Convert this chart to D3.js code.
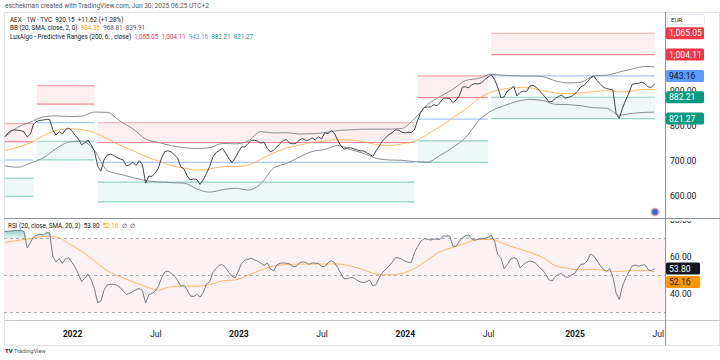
<!DOCTYPE html>
<html><head><meta charset="utf-8">
<script src="https://cdn.jsdelivr.net/npm/d3@7"></script>
<style>
body{margin:0;background:#fff;}
text{font-family:Roboto,"Liberation Sans",sans-serif;}
</style>
</head><body>
<svg id="c" width="720" height="360"></svg>
<script>
// ---------------- data ----------------
const startDate = "2021-08-09"; // first weekly bar (Monday)
const closes = [
769,780,787,789,788,787,783,769,777,806,
813,816,817,819,819,789,774,784,777,790,
794,786,773,763,746,752,760,746,729,686,
671,703,717,720,716,710,706,703,686,689,
697,687,701,689,637,657,656,666,680,709,
727,729,726,717,709,683,677,657,646,649,
647,633,646,664,684,711,724,730,736,723,
707,696,709,726,740,740,750,759,759,757,
751,754,736,726,731,740,750,759,761,751,
749,750,760,764,759,760,766,760,769,763,
781,778,787,779,760,743,734,737,738,735,
732,729,729,724,719,713,729,743,757,767,
775,781,789,788,783,780,782,781,789,817,
840,853,854,854,861,858,867,879,880,879,
867,874,886,911,912,909,919,921,920,924,
933,940,946,934,911,881,883,900,905,914,
886,896,900,898,914,916,911,901,891,881,
869,870,879,884,889,879,882,884,891,900,
912,917,926,937,943,930,921,911,907,905,
903,835,822,851,874,894,919,921,922,925,
921,912,910,920.15];

const bbIdx = [0,4,8,12,16,20,24,28,32,36,40,44,48,52,56,60,64,68,72,76,80,84,88,92,96,100,
104,108,112,116,120,124,128,132,136,140,144,148,152,156,160,164,168,172,176,180,184,188,192,196,200,203];
const bbUpper = [769,796,811,826,829,827,828,840,839,814,792,763,753,744,738,736,738,750,749,757,
784,780,781,777,778,781,787,789,791,791,791,793,821,861,884,905,930,936,947,945,943,943,941,929,923,925,943,945,954,963,970,968.81];
const bbBasis = [729,739,752,772,787,792,790,781,764,745,730,713,700,687,680,674,677,684,684,688,
705,723,737,745,753,757,761,760,755,747,744,749,756,776,799,824,848,878,897,906,910,909,901,895,892,895,898,901,897,900,905,904.36];
const bbLower = [686,682,694,709,735,754,757,730,673,662,653,644,640,638,637,620,611,618,622,617,
635,680,693,711,727,733,744,733,722,708,703,702,698,697,716,739,767,815,843,858,870,876,873,862,861,858,852,851,831,836,839,839.91];

// LuxAlgo predictive ranges: segments (bar index start/end) and levels
const prStart = [0,10,29,129,152];
const prEnd   = [9,28,128,151,203];
const prR2  = [807,915.4,809.3,943.1,1065.05];
const prR1  = [755,862.4,752.8,881.3,1004.11];
const prAvg = [703,809.4,696.3,819.5,943.16];
const prS1  = [651,756.4,639.8,757.7,882.21];
const prS2  = [599,703.4,583.3,695.9,821.27];

const rsi = [
73.7,73.9,74.1,74.3,74.4,74.4,73.8,64.9,67.8,71.0,
71.8,72.4,71.9,73.1,73.1,60.5,57.3,59.2,56.5,59.1,
59.6,57.1,54.3,50.8,46.7,48.5,50.8,47.6,43.0,35.3,
36.0,42.0,44.9,45.3,45.2,44.8,43.6,41.7,39.8,40.4,
41.3,42.4,43.0,41.8,35.1,39.6,40.3,41.5,44.1,48.8,
51.9,52.4,51.2,49.8,47.4,44.2,44.6,42.2,38.9,38.6,
39.8,38.3,40.8,45.3,46.6,51.6,53.8,55.6,55.9,54.1,
51.6,49.5,48.8,52.4,56.6,58.2,58.8,59.4,58.5,57.8,
56.6,55.5,56.8,53.6,52.5,55.7,56.6,56.8,56.6,56.3,
54.9,55.0,56.6,57.4,57.1,56.0,56.8,56.6,56.5,55.0,
54.9,56.8,58.0,57.0,54.3,51.0,48.2,48.3,48.8,48.8,
47.5,46.6,46.2,46.6,47.5,44.3,45.1,48.8,51.7,53.2,
55.1,57.1,59.6,59.5,58.8,57.8,57.2,57.0,62.5,65.7,
68.5,69.9,69.6,69.2,69.7,69.6,69.5,71.4,71.4,71.4,
65.9,65.7,68.4,70.5,71.5,71.9,69.4,69.2,69.7,69.9,
70.1,70.6,71.8,68.6,61.5,59.6,53.7,55.8,58.8,59.6,
59.0,54.1,55.9,57.1,57.8,57.5,56.5,54.4,53.1,50.6,
47.7,47.0,49.4,50.6,51.1,49.4,49.0,50.2,51.0,53.6,
56.0,56.2,58.0,61.6,60.6,58.2,55.5,53.3,52.1,53.7,
49.2,40.5,37.0,44.3,48.5,51.9,55.1,55.6,55.0,55.6,
55.8,53.2,52.5,53.80];
const rsiMa = [67.7,69.0,69.9,71.1,70.9,67.3,63.1,57.9,52.6,49.3,46.7,44.1,42.1,44.0,44.3,44.2,45.1,47.1,47.6,50.1,
52.9,55.1,55.9,56.2,56.2,56.2,56.2,55.1,53.1,50.8,50.3,51.1,53.7,58.3,62.9,65.2,67.5,69.4,69.5,67.1,
64.7,62.6,59.8,55.3,53.8,53.0,53.3,52.6,52.1,52.8,52.8,52.16];

const xTickDates  = ["2022-01-03","2022-07-04","2023-01-02","2023-07-03","2024-01-01","2024-07-01","2025-01-06","2025-07-07"];
const xTickLabels = ["2022","Jul","2023","Jul","2024","Jul","2025","Jul"];
const priceTicks = [600,700,800,900];
const rsiTicks = [40,60,80];
const rsiLevels = [70,50,30];

// ---------------- drawing ----------------
const svg = d3.select("#c");
const parse = d3.utcParse("%Y-%m-%d");
const t0 = parse(startDate);
const wd = i => d3.utcDay.offset(t0, 7*i);

const L = 4, R = 665, mainTop = 12, mainBot = 218, rsiBot = 320, axBot = 345;
const x = d3.scaleUtc().domain([parse("2022-01-03"), parse("2025-01-06")]).range([72, 574.5]);
const yP = d3.scaleLinear().domain([600, 900]).range([196, 91]);
const yR = d3.scaleLinear().domain([40, 60]).range([294, 257]);

const defs = svg.append("defs");
defs.append("clipPath").attr("id","cm").append("rect").attr("x",L).attr("y",mainTop).attr("width",R-L).attr("height",mainBot-mainTop);
defs.append("clipPath").attr("id","cr").append("rect").attr("x",L).attr("y",mainBot).attr("width",R-L).attr("height",rsiBot-mainBot);
defs.append("clipPath").attr("id","cra").append("rect").attr("x",R).attr("y",mainBot+3).attr("width",720-R).attr("height",rsiBot-mainBot-3);
defs.append("clipPath").attr("id","cma").append("rect").attr("x",R).attr("y",mainTop+1).attr("width",720-R).attr("height",mainBot-mainTop-1);
const gr = defs.append("linearGradient").attr("id","ob").attr("x1",0).attr("y1",0).attr("x2",0).attr("y2",1);
gr.append("stop").attr("offset","0%").attr("stop-color","#089981").attr("stop-opacity",0.45);
gr.append("stop").attr("offset","100%").attr("stop-color","#089981").attr("stop-opacity",0.08);

// header
svg.append("text").attr("x",5).attr("y",7.5).attr("font-size",6.6).attr("fill","#50535e")
  .text("eschekman created with TradingView.com, Jun 30, 2025 06:25 UTC+2");

// frame
svg.append("rect").attr("x",L+0.5).attr("y",mainTop+0.5).attr("width",720-L-1).attr("height",axBot-mainTop).attr("fill","none").attr("stroke","#e0e3eb");

// ---- main pane ----
const gm = svg.append("g").attr("clip-path","url(#cm)");
const segs = prStart.map((s,k)=>({x0:x(wd(s)), x1:x(wd(prEnd[k])), k}));
segs.forEach(s=>{
  const k=s.k;
  gm.append("rect").attr("x",s.x0).attr("width",s.x1-s.x0).attr("y",yP(prR2[k])).attr("height",yP(prR1[k])-yP(prR2[k])).attr("fill","#fdeef0");
  gm.append("rect").attr("x",s.x0).attr("width",s.x1-s.x0).attr("y",yP(prS1[k])).attr("height",yP(prS2[k])-yP(prS1[k])).attr("fill","#eef8f6");
  [[prR2,"#f9a6ad"],[prR1,"#f48a92"],[prAvg,"#a9c8f8"],[prS1,"#8fd3c3"],[prS2,"#8fd3c3"]].forEach(([arr,c])=>{
    gm.append("line").attr("x1",s.x0).attr("x2",s.x1).attr("y1",yP(arr[k])).attr("y2",yP(arr[k])).attr("stroke",c).attr("stroke-width",1.2);
  });
});
const bbLine = d3.line().curve(d3.curveMonotoneX).x((d,j)=>x(wd(bbIdx[j]))).y(d=>yP(d));
gm.append("path").attr("d",bbLine(bbUpper)).attr("fill","none").attr("stroke","#8a8d96").attr("stroke-width",1);
gm.append("path").attr("d",bbLine(bbLower)).attr("fill","none").attr("stroke","#8a8d96").attr("stroke-width",1);
gm.append("path").attr("d",bbLine(bbBasis)).attr("fill","none").attr("stroke","#ffb866").attr("stroke-width",1);
const pLine = d3.line().x((d,i)=>x(wd(i))).y(d=>yP(d));
gm.append("path").attr("d",pLine(closes)).attr("fill","none").attr("stroke","#43464f").attr("stroke-width",1);

// legend
const leg = [
  [["AEX · 1W · TVC  ","#131722"],["920.15  +11.62 (+1.28%)","#131722"]],
  [["BB (20, SMA, close, 2, 0)  ","#131722"],[d3.format(".2f")(bbBasis[bbBasis.length-1])+"  ","#ff9800"],[d3.format(".2f")(bbUpper[bbUpper.length-1])+"  ","#50535e"],[d3.format(".2f")(bbLower[bbLower.length-1]),"#50535e"]],
  [["LuxAlgo - Predictive Ranges (200, 6, , close)  ","#131722"],[d3.format(",.2f")(prR2[4])+"  ","#f23645"],[d3.format(",.2f")(prR1[4])+"  ","#f23645"],[d3.format(",.2f")(prAvg[4])+"  ","#5b9cf6"],[d3.format(",.2f")(prS1[4])+"  ","#089981"],[d3.format(",.2f")(prS2[4]),"#089981"]]
];
leg.forEach((row,r)=>{
  const t = svg.append("text").attr("x",10).attr("y",22+r*8.3).attr("font-size",6.3).attr("xml:space","preserve");
  row.forEach(([s,c])=>t.append("tspan").attr("fill",c).text(s));
});

// ---- RSI pane ----
const grp = svg.append("g").attr("clip-path","url(#cr)");
grp.append("rect").attr("x",L).attr("width",R-L).attr("y",yR(70)).attr("height",yR(30)-yR(70)).attr("fill","#fdf1f3");
rsiLevels.forEach(v=>grp.append("line").attr("x1",L).attr("x2",R).attr("y1",yR(v)).attr("y2",yR(v))
  .attr("stroke","#a3a6af").attr("stroke-dasharray","3,3").attr("stroke-width",0.9));
const obArea = d3.area().x((d,i)=>x(wd(i))).y0(yR(70)).y1(d=>yR(Math.max(d,70)));
grp.append("path").attr("d",obArea(rsi)).attr("fill","url(#ob)");
const maLine = d3.line().curve(d3.curveMonotoneX).x((d,j)=>x(wd(bbIdx[j]))).y(d=>yR(d));
grp.append("path").attr("d",maLine(rsiMa)).attr("fill","none").attr("stroke","#ffb866").attr("stroke-width",1);
const rLine = d3.line().x((d,i)=>x(wd(i))).y(d=>yR(d));
grp.append("path").attr("d",rLine(rsi)).attr("fill","none").attr("stroke","#787b86").attr("stroke-width",1);
{
  const t = svg.append("text").attr("x",8).attr("y",228).attr("font-size",6.3).attr("xml:space","preserve");
  t.append("tspan").attr("fill","#131722").text("RSI (20, close, SMA, 20, 2)  ");
  t.append("tspan").attr("fill","#131722").text(d3.format(".2f")(rsi[rsi.length-1])+"  ");
  t.append("tspan").attr("fill","#ff9800").text(d3.format(".2f")(rsiMa[rsiMa.length-1])+"  ");
  t.append("tspan").attr("fill","#131722").text("∅  ∅");
}

// ---- axes lines ----
svg.append("line").attr("x1",L).attr("x2",720).attr("y1",mainBot+0.5).attr("y2",mainBot+0.5).attr("stroke","#8f929b");
svg.append("line").attr("x1",L).attr("x2",720).attr("y1",rsiBot+0.5).attr("y2",rsiBot+0.5).attr("stroke","#c5c8cf");
svg.append("line").attr("x1",R+0.5).attr("x2",R+0.5).attr("y1",mainTop).attr("y2",axBot).attr("stroke","#8f929b");

// price axis
const pa = svg.append("g").attr("clip-path","url(#cma)").append("g").attr("transform",`translate(${R+5},0)`)
  .call(d3.axisRight(yP).tickValues(priceTicks).tickSize(0).tickFormat(d3.format(",.2f")));
pa.select(".domain").remove();
pa.selectAll("text").attr("font-size",8.6).attr("fill","#131722").attr("font-family","Roboto, sans-serif").attr("x",0);

// EUR box
svg.append("rect").attr("x",667.5).attr("y",14.5).attr("width",37).attr("height",10).attr("rx",2).attr("fill","#fff").attr("stroke","#e0e3eb");
svg.append("text").attr("x",671).attr("y",21.8).attr("font-size",6).attr("fill","#131722").text("EUR");

// price labels
const fmt = d3.format(",.2f");
[[prR2[4],"#f23645","#fff"],[prR1[4],"#f23645","#fff"],[prAvg[4],"#5b9cf6","#131722"],[prS1[4],"#089981","#fff"],[prS2[4],"#089981","#fff"]]
.forEach(([v,bg,fg])=>{
  const yy = yP(v);
  svg.append("rect").attr("x",R+1).attr("y",yy-6).attr("width",38).attr("height",12).attr("rx",1.5).attr("fill",bg);
  svg.append("text").attr("x",R+4).attr("y",yy+3.1).attr("font-size",8.6).attr("fill",fg).text(fmt(v));
});

// rsi axis
const ra = svg.append("g").attr("clip-path","url(#cra)").append("g").attr("transform",`translate(${R+5},0)`)
  .call(d3.axisRight(yR).tickValues(rsiTicks).tickSize(0).tickFormat(d3.format(".2f")));
ra.select(".domain").remove();
ra.selectAll("text").attr("font-size",8.6).attr("fill","#131722").attr("font-family","Roboto, sans-serif").attr("x",0);
{
  const f2 = d3.format(".2f");
  let y1 = yR(rsi[rsi.length-1]);
  let y2 = yR(rsiMa[rsiMa.length-1]);
  if (y2 - y1 < 13) y2 = y1 + 13.5;
  [[rsi[rsi.length-1],y1,"#131722","#fff"],[rsiMa[rsiMa.length-1],y2,"#ff9800","#131722"]].forEach(([v,yy,bg,fg])=>{
    svg.append("rect").attr("x",R+1).attr("y",yy-6).attr("width",34).attr("height",12).attr("rx",1.5).attr("fill",bg);
    svg.append("text").attr("x",R+4).attr("y",yy+3.1).attr("font-size",8.6).attr("fill",fg).text(f2(v));
  });
}

// time axis
const ta = svg.append("g").attr("transform",`translate(0,${rsiBot+8})`)
  .call(d3.axisBottom(x).tickValues(xTickDates.map(parse)).tickSize(0).tickFormat((d,i)=>xTickLabels[i]));
ta.select(".domain").remove();
ta.selectAll("text").attr("font-size",8.6).attr("fill","#131722").attr("font-family","Roboto, sans-serif")
  .attr("font-weight",(d,i)=>/^\d/.test(xTickLabels[i])?"bold":"normal");

// small icon
svg.append("circle").attr("cx",655).attr("cy",212).attr("r",3.6).attr("fill","#2f6fd6").attr("stroke","#f59aa3").attr("stroke-width",1.4);

// footer logo
svg.append("text").attr("x",5).attr("y",353).attr("font-size",6).attr("font-weight","bold").attr("fill","#131722").text("TV");
svg.append("text").attr("x",14).attr("y",353).attr("font-size",5.8).attr("fill","#50535e").text("TradingView");
</script>
</body></html>
